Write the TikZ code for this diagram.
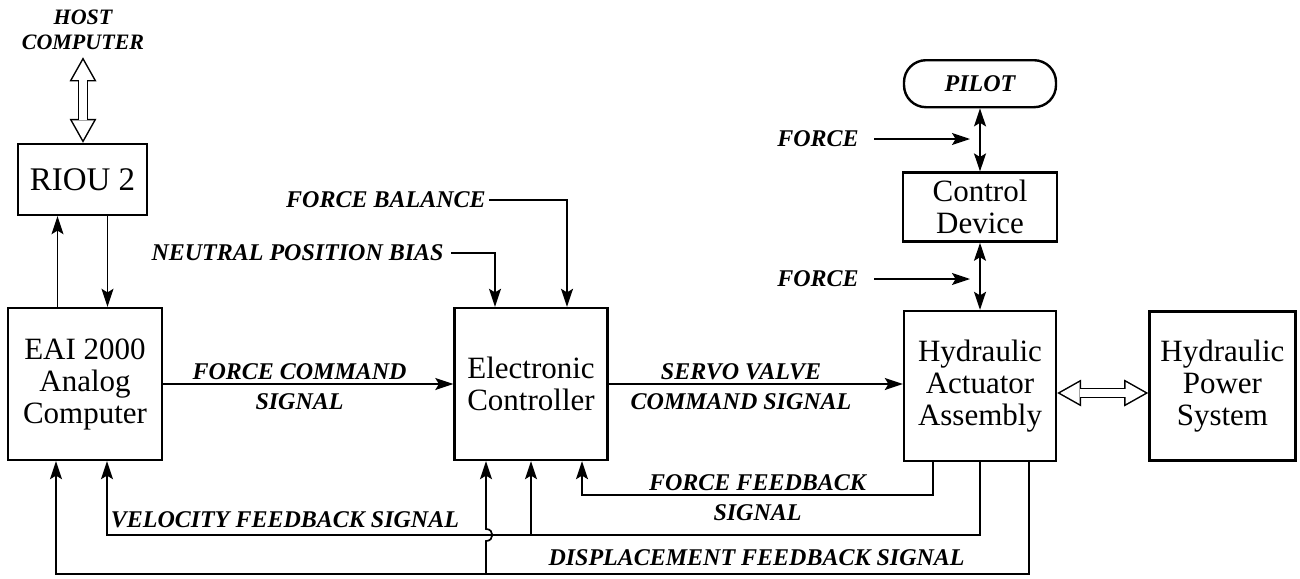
\documentclass[tikz,border=0pt]{standalone}
\usepackage{fontspec}
\setmainfont{Liberation Serif}
\usepackage{tikz}
\usetikzlibrary{arrows.meta, positioning, calc}
\newcommand{\boxfont}{\fontsize{15.5}{16}\selectfont}
\newcommand{\lblfont}{\fontsize{12}{13}\selectfont\bfseries\itshape}
\tikzset{
  >=Stealth,
  blockbox/.style={draw, line width=1.2pt, align=center, font=\boxfont, inner sep=2pt},
  sigline/.style={-{Stealth[length=9pt, width=6pt, inset=1.8pt]}, line width=0.85pt},
  sigboth/.style={{Stealth[length=9pt, width=6pt, inset=1.8pt]}-{Stealth[length=9pt, width=6pt, inset=1.8pt]}, line width=0.85pt},
  sigtext/.style={font=\lblfont, inner sep=1.5pt},
  hollowout/.style={line width=5.3pt, {Triangle[length=12pt, width=13.5pt, line width=0pt]}-{Triangle[length=12pt, width=13.5pt, line width=0pt]}},
  hollowin/.style={white, line width=3.8pt, shorten <=1.55pt, shorten >=1.55pt, {Triangle[length=9.7pt, width=10.9pt, line width=0pt]}-{Triangle[length=9.7pt, width=10.9pt, line width=0pt]}}
}
\begin{document}
\begin{tikzpicture}[x=0.5pt, y=-0.5pt]
\useasboundingbox (0,0) rectangle (1300,578);

% computer side
\node[sigtext, font=\fontsize{11}{12.5}\selectfont\bfseries\itshape, align=center] (host) at (83,30) {HOST\\COMPUTER};
\node[blockbox, minimum width=64.5pt, minimum height=35.5pt, font=\fontsize{16.5}{18}\selectfont] (riou) at (82.5,179.5) {RIOU 2};
\node[blockbox, minimum width=77pt, minimum height=76pt] (eai) at (85,384) {EAI 2000\\Analog\\Computer};

% controller
\node[blockbox, minimum width=76.5pt, minimum height=76pt] (ec) at (531,384) {Electronic\\Controller};
\node[sigtext, anchor=east] (npb) at (447,253) {NEUTRAL POSITION BIAS};
\node[sigtext, anchor=east] (fb) at (489,200) {FORCE BALANCE};

% actuator side
\node[blockbox, minimum width=76pt, minimum height=75pt] (haa) at (980,386) {Hydraulic\\Actuator\\Assembly};
\node[blockbox, minimum width=73pt, minimum height=74.5pt, right=45.5pt of haa] (hps) {Hydraulic\\Power\\System};
\node[blockbox, minimum width=77pt, minimum height=34.5pt, above=33.5pt of haa] (cd) {Control\\Device};
\node[draw, line width=1.2pt, rounded corners=11pt, sigtext, minimum width=76pt, minimum height=23.5pt, above=31.5pt of cd] (pilot) {PILOT};
\node[sigtext] (f1) at (818,139) {FORCE};
\node[sigtext] (f2) at (818,279) {FORCE};

% feedback levels
\coordinate (ffbY) at (0,495);
\coordinate (velY) at (0,535);
\coordinate (dspY) at (0,574);
\coordinate (hopLo) at (0,541);
\coordinate (hopHi) at (0,529);

\draw[hollowout] ([yshift=-2pt]host.south) -- (host.south |- riou.north);
\draw[hollowin] ([yshift=-2pt]host.south) -- (host.south |- riou.north);
\draw[sigline] ([xshift=-12.5pt]riou.south |- eai.north) -- ([xshift=-12.5pt]riou.south);
\draw[sigline] ([xshift=12.5pt]riou.south) -- ([xshift=12.5pt]riou.south |- eai.north);

\draw[sigline] (eai) -- node[sigtext, above, pos=0.47]{FORCE COMMAND} node[sigtext, below=3pt, pos=0.47]{SIGNAL} (ec);
\draw[sigline] ([xshift=2pt]npb.east) -| ([xshift=-18pt]ec.north);
\draw[sigline] (fb.east) -| ([xshift=18pt]ec.north);
\draw[sigline] (ec.east) -- node[sigtext, above, pos=0.45]{SERVO VALVE} node[sigtext, below=3pt, pos=0.45]{COMMAND SIGNAL} (ec.east -| haa.west);

\draw[hollowout] ([yshift=-3.5pt]haa.east) -- ([yshift=-3.5pt]haa.east -| hps.west);
\draw[hollowin] ([yshift=-3.5pt]haa.east) -- ([yshift=-3.5pt]haa.east -| hps.west);
\draw[sigboth] (pilot) -- (cd);
\draw[sigboth] (cd) -- (haa);
\draw[sigline] ([xshift=6pt]f1.east) -- ([xshift=-5pt]cd.north |- f1.east);
\draw[sigline] ([xshift=6pt]f2.east) -- ([xshift=-5pt]cd.north |- f2.east);

% feedback paths
\draw[sigline] ([xshift=-23.5pt]haa.south) |- node[sigtext, above, pos=0.75]{FORCE FEEDBACK} node[sigtext, below=3pt, pos=0.75]{SIGNAL} ([xshift=25.5pt]ec.south |- ffbY) -- ([xshift=25.5pt]ec.south);
\draw[sigline] (haa.south) |- ([xshift=11pt]eai.south |- velY) node[sigtext, anchor=south west, yshift=1.5pt]{VELOCITY FEEDBACK SIGNAL} -- ([xshift=11pt]eai.south);
\draw[sigline] (ec.south |- velY) -- (ec.south);
\draw[sigline] ([xshift=24.5pt]haa.south) |- node[sigtext, above=2pt, pos=0.64]{DISPLACEMENT FEEDBACK SIGNAL} ([xshift=-14.5pt]eai.south |- dspY) -- ([xshift=-14.5pt]eai.south);
\draw[sigline] ([xshift=-22.5pt]ec.south |- dspY) -- ([xshift=-22.5pt]ec.south |- hopLo) to[out=0, in=0, looseness=1.8] ([xshift=-22.5pt]ec.south |- hopHi) -- ([xshift=-22.5pt]ec.south);
\end{tikzpicture}
\end{document}
